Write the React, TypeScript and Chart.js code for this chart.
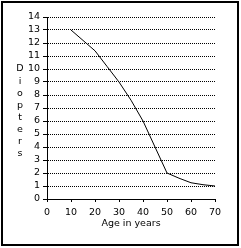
import React, { useEffect, useRef } from 'react';
import { Chart, registerables } from 'chart.js';

Chart.register(...registerables);

const ages = [10, 15, 20, 25, 30, 35, 40, 45, 50, 55, 60, 65, 70];
const diopters = [13, 12.2, 11.4, 10.2, 9, 7.6, 6, 4, 2, 1.6, 1.25, 1.1, 1.0];
const yTitle = 'Diopters';
const xTitle = 'Age in years';

const FONT = '"DejaVu Sans", sans-serif';
const FSIZE = 9.5;

const extrasPlugin = {
  id: 'extras',
  afterDraw(chart: any) {
    const ctx = chart.ctx;
    const area = chart.chartArea;
    ctx.save();
    ctx.strokeStyle = '#000';
    ctx.lineWidth = 2;
    ctx.strokeRect(2, 2, 236, 243);
    ctx.fillStyle = '#000';
    ctx.font = `${FSIZE}px ${FONT}`;
    ctx.textAlign = 'center';
    ctx.textBaseline = 'middle';
    const letters = yTitle.split('');
    letters.forEach((ch, i) => {
      ctx.fillText(ch, 20, 69 + i * 12.1);
    });
    ctx.fillText(xTitle, (area.left + area.right) / 2, area.bottom + 25);
    ctx.restore();
  },
};

export default function App() {
  const ref = useRef<HTMLCanvasElement>(null);
  useEffect(() => {
    document.body.style.margin = '0';
    const chart = new Chart(ref.current as HTMLCanvasElement, {
      type: 'line',
      data: {
        datasets: [
          {
            data: ages.map((a, i) => ({ x: a, y: diopters[i] })),
            borderColor: '#000',
            borderWidth: 1,
            pointRadius: 0,
            tension: 0,
            fill: false,
          },
        ],
      },
      options: {
        animation: false,
        responsive: false,
        devicePixelRatio: 1,
        layout: { padding: { left: 0, right: 26, top: 17, bottom: 0 } },
        plugins: { legend: { display: false }, tooltip: { enabled: false } },
        scales: {
          x: {
            type: 'linear',
            min: 0,
            max: 70,
            ticks: { stepSize: 10, color: '#000', font: { family: FONT, size: FSIZE }, padding: 5, maxRotation: 0, autoSkip: false },
            grid: { drawOnChartArea: false, drawTicks: true, tickLength: 3, color: '#000', tickColor: '#000' },
            border: { color: '#000', width: 1 },
            afterFit: (scale: any) => {
              scale.height = 49;
            },
          },
          y: {
            min: 0,
            max: 14,
            ticks: { stepSize: 1, color: '#000', font: { family: FONT, size: FSIZE }, padding: 3, autoSkip: false },
            grid: {
              color: (c: any) => (c.tick && c.tick.value === 0 ? 'rgba(0,0,0,0)' : '#000'),
              tickColor: '#000',
              tickLength: 4,
              lineWidth: 1,
            },
            border: { color: '#000', width: 1, dash: [1, 1] },
            afterFit: (scale: any) => {
              scale.width = 47;
            },
          },
        },
      },
      plugins: [extrasPlugin],
    } as any);
    return () => chart.destroy();
  }, []);
  return (
    <div style={{ position: 'absolute', left: 0, top: 0, width: 241, height: 248, background: '#fff' }}>
      <canvas ref={ref} width={241} height={248} style={{ display: 'block' }} />
    </div>
  );
}
